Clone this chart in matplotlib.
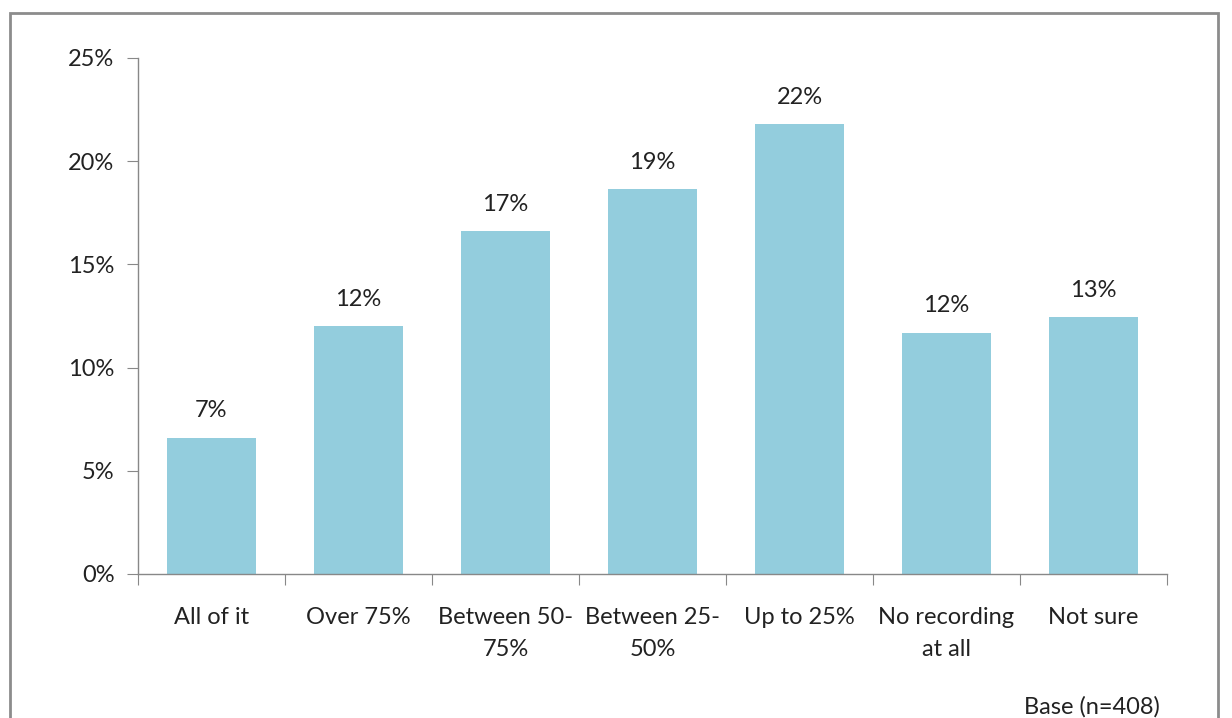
import matplotlib
matplotlib.use("Agg")
import matplotlib.pyplot as plt
from matplotlib.patches import Rectangle
from matplotlib.ticker import FixedLocator, PercentFormatter

categories = ["All of it", "Over 75%", "Between 50-\n75%", "Between 25-\n50%",
              "Up to 25%", "No recording\nat all", "Not sure"]
values = [6.6, 12.0, 16.6, 18.65, 21.8, 11.7, 12.45]
labels = ["7%", "12%", "17%", "19%", "22%", "12%", "13%"]
yticks = [0, 5, 10, 15, 20, 25]

plt.rcParams['font.family'] = ['Lato', 'DejaVu Sans']
FS = 17
TC = "#222222"
W, H = 1232, 718
fig = plt.figure(figsize=(W / 100, H / 100), dpi=100)
fig.patch.set_facecolor("white")

fig.patches.append(Rectangle((10 / W, -0.05), 1208 / W, 1 - 13 / H + 0.05,
                             transform=fig.transFigure, fill=False,
                             edgecolor="#8c8c8c", linewidth=2.0))

ax = fig.add_axes([138 / W, 1 - 574 / H, (1167 - 138) / W, (574 - 58) / H])
x = list(range(len(categories)))
ax.bar(x, values, width=0.6, color="#93CDDD")
for xi, v, lab in zip(x, values, labels):
    ax.text(xi, v + 0.8, lab, ha="center", va="bottom", fontsize=FS, color=TC)

ax.set_xlim(-0.5, len(categories) - 0.5)
ax.set_ylim(0, 25)
ax.yaxis.set_major_locator(FixedLocator(yticks))
ax.yaxis.set_major_formatter(PercentFormatter(decimals=0))
ax.xaxis.set_major_locator(FixedLocator([i - 0.5 for i in range(len(categories) + 1)]))
ax.xaxis.set_major_formatter(plt.NullFormatter())
ax.xaxis.set_minor_locator(FixedLocator(x))
ax.xaxis.set_minor_formatter(plt.FixedFormatter(categories))
for t in ax.xaxis.get_minor_ticks():
    t.label1.set_linespacing(1.65)
ax.tick_params(axis="x", which="minor", length=0, pad=24, labelsize=FS, labelcolor=TC)
ax.tick_params(axis="x", which="major", length=8, color="#888888", direction="out")
ax.tick_params(axis="y", length=8, color="#888888", labelsize=FS, labelcolor=TC, pad=9)
for s in ["top", "right"]:
    ax.spines[s].set_visible(False)
for s in ["left", "bottom"]:
    ax.spines[s].set_color("#888888")
    ax.spines[s].set_linewidth(1.0)

fig.text(1160 / W, 1 - 707 / H, "Base (n=408)", ha="right", va="center",
         fontsize=FS, color=TC)

fig.savefig("out.png", dpi=100)
